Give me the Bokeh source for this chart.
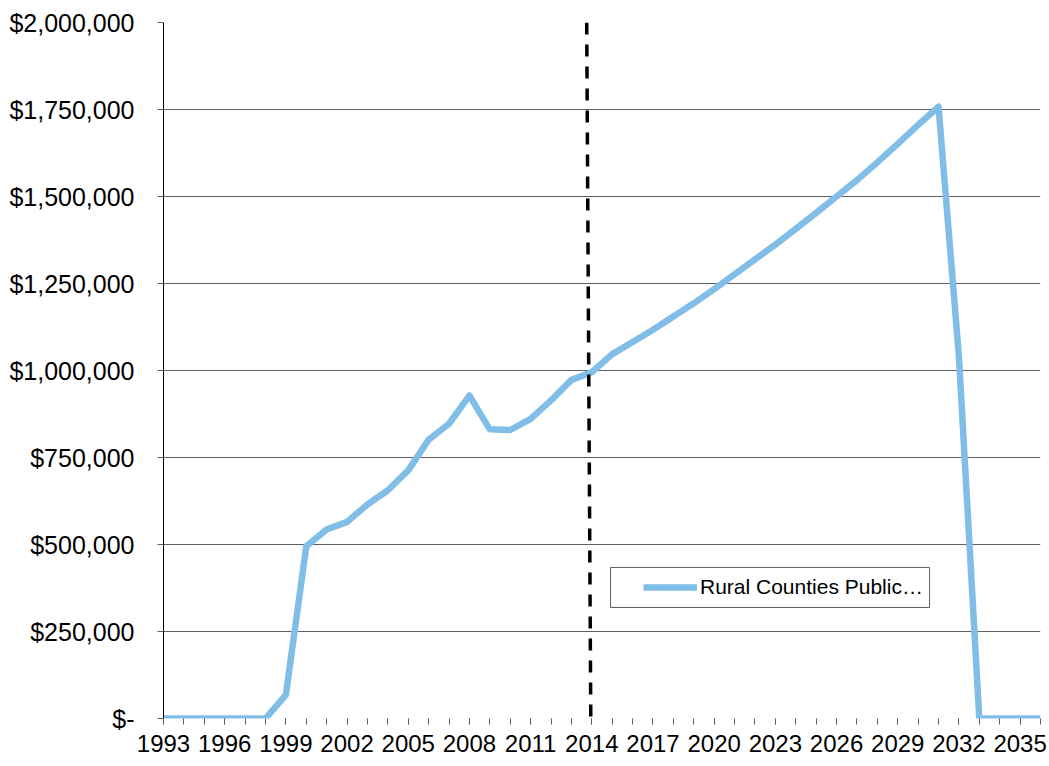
from bokeh.plotting import figure
from bokeh.models import (Range1d, FixedTicker, NumeralTickFormatter, BoxAnnotation,
                          Legend, LegendItem, Segment, ColumnDataSource)
from bokeh.embed import file_html
from bokeh.resources import INLINE

# Annual amounts, 1993-2036
years = list(range(1993, 2037))
amounts = [
    0, 0, 0, 0, 0, 0,
    68_000, 495_000, 543_000, 565_000, 615_000, 656_000, 713_000, 801_000,
    847_000, 928_000, 831_000, 829_000, 861_000, 914_000, 973_000, 995_000,
    1_047_000, 1_082_000, 1_117_000, 1_155_000, 1_193_000, 1_234_000,
    1_276_000, 1_319_000, 1_362_000, 1_407_000, 1_453_000, 1_500_000,
    1_547_000, 1_598_000, 1_651_000, 1_706_000, 1_758_000, 1_040_000,
    0, 0, 0, 0,
]
series_name = "Rural Counties Public\u2026"

# Labelled years on the x axis
year_ticks = list(range(1993, 2036, 3))

# Value axis ticks and their labels
value_ticks = [0, 250_000, 500_000, 750_000, 1_000_000, 1_250_000,
               1_500_000, 1_750_000, 2_000_000]
value_labels = ["$-", "$250,000", "$500,000", "$750,000", "$1,000,000",
                "$1,250,000", "$1,500,000", "$1,750,000", "$2,000,000"]

# Divider between actual and projected years
divider_x = [2013.75, 2013.95]
divider_y = [2_000_000, 0]

FONT = "Liberation Sans"
BLUE = "#80BEE8"
GRID = "#5f5f5f"

p = figure(width=1049, height=766, output_backend="svg", toolbar_location=None,
           x_range=Range1d(1993, 2036), y_range=Range1d(0, 2_000_000),
           min_border_left=163, min_border_right=9, min_border_top=22,
           min_border_bottom=48)
p.outline_line_color = None
p.background_fill_color = "white"
p.border_fill_color = "white"

# Grid
p.xgrid.visible = False
p.ygrid.ticker = FixedTicker(ticks=value_ticks)
p.ygrid.grid_line_color = GRID
p.ygrid.grid_line_width = 1

# X axis
xa = p.xaxis[0]
xa.ticker = FixedTicker(ticks=year_ticks, minor_ticks=years)
xa.axis_line_color = None
xa.major_tick_line_color = GRID
xa.minor_tick_line_color = GRID
xa.major_tick_out = 6
xa.major_tick_in = 0
xa.minor_tick_out = 6
xa.minor_tick_in = 0
xa.major_label_text_font = FONT
xa.major_label_text_font_size = "24px"
xa.major_label_text_color = "black"
xa.major_label_standoff = 10

# Y axis
ya = p.yaxis[0]
ya.ticker = FixedTicker(ticks=value_ticks, minor_ticks=[])
ya.formatter = NumeralTickFormatter(format="$0,0")
ya.major_label_overrides = {t: lab for t, lab in zip(value_ticks, value_labels)}
ya.axis_line_color = "black"
ya.axis_line_width = 1
ya.major_tick_line_color = GRID
ya.major_tick_out = 6
ya.major_tick_in = 0
ya.minor_tick_line_color = None
ya.major_label_text_font = FONT
ya.major_label_text_font_size = "25px"
ya.major_label_text_color = "black"
ya.major_label_standoff = 23

# Data line
line = p.line(years, amounts, line_color=BLUE, line_width=6.5, line_join="round")

# Dashed divider
div_src = ColumnDataSource(dict(x0=[divider_x[0]], y0=[divider_y[0]],
                                x1=[divider_x[1]], y1=[divider_y[1]]))
p.add_glyph(div_src, Segment(x0="x0", y0="y0", x1="x1", y1="y1",
                             line_color="black", line_width=3.5, line_dash="12 10"))

# Legend frame
frame = BoxAnnotation(left=2014.92, right=2030.56, top=434_000, bottom=319_000,
                      fill_color="white", fill_alpha=1.0,
                      line_color="#606060", line_width=1, line_alpha=1.0)
p.add_layout(frame)

legend = Legend(items=[LegendItem(label=series_name, renderers=[line])],
                location=(480, 119), padding=0, margin=0, spacing=0,
                glyph_width=54, glyph_height=24, label_height=24,
                label_standoff=3, border_line_color=None,
                background_fill_alpha=0.0,
                label_text_font=FONT, label_text_font_size="21px",
                label_text_color="black")
p.add_layout(legend)

open("out.html", "w").write(file_html(p, INLINE))
